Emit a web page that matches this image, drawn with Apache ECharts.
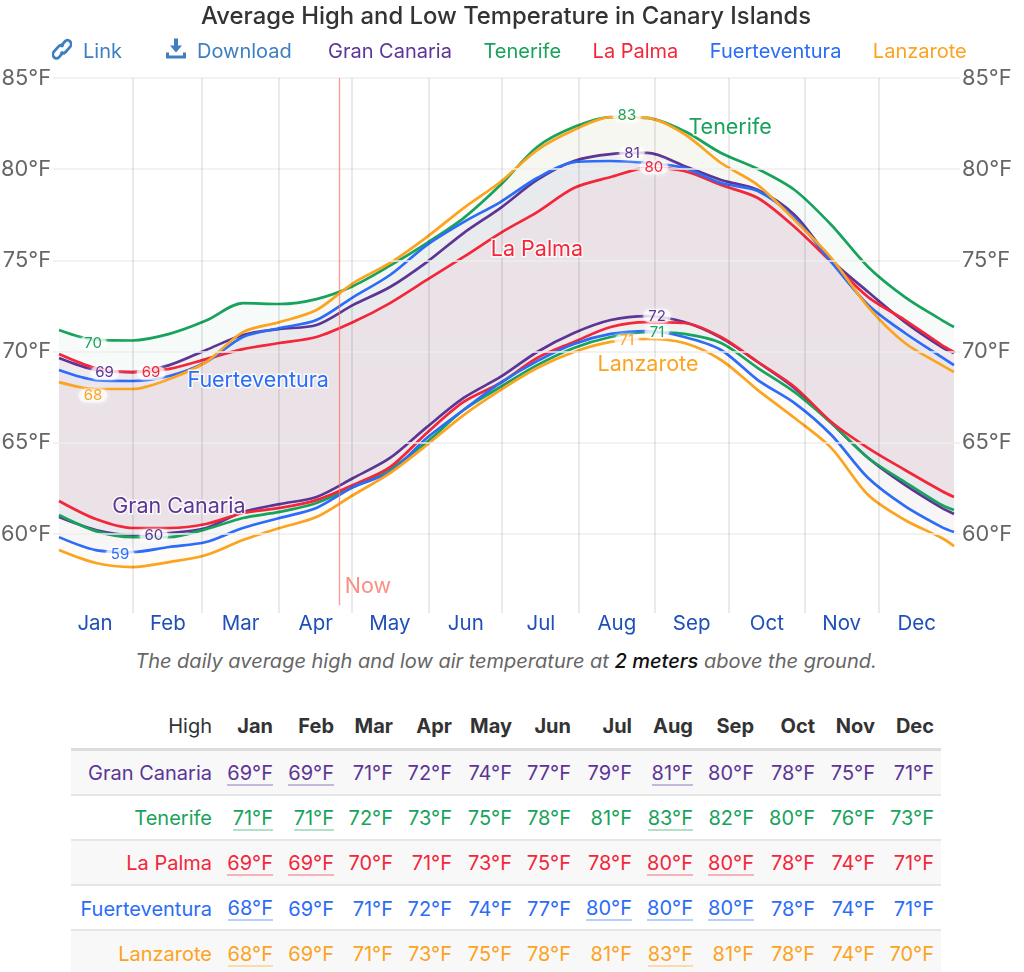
<!DOCTYPE html>
<html>
<head>
<meta charset="utf-8">
<script src="https://cdn.jsdelivr.net/npm/echarts@6/dist/echarts.min.js"></script>
<style>
html,body{margin:0;padding:0;background:#fff;overflow:hidden;width:1024px;height:972px;font-family:Inter,"Noto Sans",sans-serif}
#chart{position:absolute;left:0;top:0;width:1024px;height:645px}
#caption{position:absolute;left:0;width:1012px;top:649px;text-align:center;font-style:italic;font-size:20px;line-height:24px;color:#666}
#caption b{font-weight:500;color:#111}
.tool{position:absolute;top:39px;font-size:20px;line-height:24px;color:#3d7fbf}
.tool svg{position:absolute}
#tbl{position:absolute;left:71px;top:704px;width:870px;border-collapse:collapse;table-layout:fixed;font-size:20px}
#tbl th,#tbl td{padding:0 7px 0 0;text-align:right;white-space:nowrap;font-weight:400}
#tbl thead th{height:44px;border-bottom:3px solid #ddd;color:#333}
#tbl thead th.m{font-weight:700}
#tbl tbody tr{height:45.2px}
#tbl tbody td{border-bottom:2px solid #e6e6e6;padding-top:2px}
#tbl tbody tr:nth-child(odd){background:#f8f8f8}
#tbl tbody tr:last-child td{border-bottom:none}
#tbl span.u{border-bottom:2px solid;display:inline-block;line-height:21px}
</style>
</head>
<body>
<div id="chart"></div>
<div class="tool" style="left:83px"><svg style="left:-31px;top:-1px" width="20" height="22" viewBox="0 1 20 19.5" preserveAspectRatio="none" fill="none" stroke="#3d7fbf" stroke-width="2.6"><path d="M8.5 8.5 L13 4 a3.5 3.5 0 0 1 5 5 L13.5 13.5 a3.5 3.5 0 0 1 -5 0 M11.5 13.5 L7 18 a3.5 3.5 0 0 1 -5 -5 L6.5 8.5 a3.5 3.5 0 0 1 5 0"/></svg>Link</div>
<div class="tool" style="left:197px"><svg style="left:-31px;top:-1px" width="20" height="21" viewBox="0 0 20 20" fill="#3d7fbf"><path d="M8 0h4v7h4l-6 7-6-7h4z M0 14h3v3h14v-3h3v6H0z"/></svg>Download</div>
<div id="caption">The daily average high and low air temperature at <b>2 meters</b> above the ground.</div>
<table id="tbl"></table>
<script>
const titleText = 'Average High and Low Temperature in Canary Islands';
const islands = ['Gran Canaria', 'Tenerife', 'La Palma', 'Fuerteventura', 'Lanzarote'];
const colors = ['#5c3596', '#18a35c', '#f3263a', '#2b6cf8', '#fca31f'];
const months = ['Jan','Feb','Mar','Apr','May','Jun','Jul','Aug','Sep','Oct','Nov','Dec'];
const monthStarts = [30.2,58.3,89.7,119.5,150.9,180.7,212,243.1,273.2,304.2,334.4];
const monthMids = [14.7,44.4,74.1,104.7,134.9,165.9,196.5,227.5,258,288.7,319.2,349.8];
const tempTicks = [60,65,70,75,80,85];
const nowDay = 114.2;
const days = [0,15,30,45,60,75,90,105,120,135,150,165,180,195,210,225,240,255,270,285,300,315,330,345,360,365];

const granCanariaHigh = [69.65,68.99,68.88,69.26,70.09,70.91,71.24,71.46,72.56,73.54,74.91,76.50,77.87,79.41,80.45,80.83,80.89,80.18,79.41,78.86,77.49,75.02,73.27,71.62,70.25,69.92];
const granCanariaLow = [60.93,60.22,59.94,60.05,60.33,61.21,61.64,62.03,63.07,64.17,65.86,67.46,68.61,69.98,71.02,71.73,71.95,71.62,70.75,69.43,68.00,66.08,64.17,62.69,61.43,61.10];
const tenerifeHigh = [71.18,70.64,70.61,70.97,71.70,72.66,72.61,72.88,73.60,74.71,75.95,77.32,79.13,81.22,82.31,82.86,82.81,82.09,80.89,80.01,78.86,76.94,74.64,72.99,71.73,71.35];
const tenerifeLow = [61.04,60.16,59.83,59.83,60.27,60.88,61.21,61.70,62.58,63.56,65.04,66.80,68.06,69.26,70.20,70.80,71.07,70.97,70.47,69.10,67.78,66.08,64.17,62.85,61.59,61.32];
const laPalmaHigh = [69.87,69.10,68.88,69.05,69.59,70.14,70.47,70.80,71.62,72.66,73.93,75.19,76.50,77.65,78.97,79.57,80.07,79.90,79.13,78.42,76.83,74.91,72.99,71.73,70.36,69.98];
const laPalmaLow = [61.81,60.82,60.33,60.33,60.55,61.15,61.43,61.86,62.69,63.67,65.54,67.24,68.28,69.65,70.53,71.35,71.62,71.57,70.80,69.43,68.06,66.14,64.71,63.51,62.36,62.03];
const fuerteventuraHigh = [68.99,68.44,68.39,68.66,69.43,70.80,71.29,71.73,72.99,74.20,75.84,77.10,78.20,79.52,80.39,80.45,80.34,80.07,79.24,78.80,77.32,74.91,72.56,71.02,69.70,69.26];
const fuerteventuraLow = [59.83,59.12,59.01,59.29,59.56,60.33,60.88,61.43,62.58,63.40,65.26,66.80,68.28,69.48,70.42,70.97,71.13,70.80,70.09,68.44,67.18,65.43,63.07,61.53,60.38,60.11];
const lanzaroteHigh = [68.33,67.95,67.95,68.50,69.43,71.07,71.62,72.28,73.76,74.86,76.28,77.87,79.30,81.05,82.15,82.86,82.81,81.93,80.34,79.13,77.21,75.13,72.44,70.47,69.26,68.88];
const lanzaroteLow = [59.12,58.41,58.19,58.46,58.85,59.67,60.33,60.93,62.14,63.34,64.88,66.52,67.89,69.10,69.98,70.53,70.69,70.47,69.54,67.89,66.36,64.71,62.14,60.77,59.78,59.34];
const highs = [granCanariaHigh, tenerifeHigh, laPalmaHigh, fuerteventuraHigh, lanzaroteHigh];
const lows = [granCanariaLow, tenerifeLow, laPalmaLow, fuerteventuraLow, lanzaroteLow];

// [day, temperature, text, island index]
const valueLabels = [[13.9,70.47,'70',1],[18.6,68.83,'69',0],[37.5,68.83,'69',2],[13.9,67.6,'68',4],[38.7,59.9,'60',0],[24.9,58.9,'59',3],[231.6,82.96,'83',1],[233.7,80.88,'81',0],[242.6,80.1,'80',2],[243.9,71.95,'72',0],[243.9,71.07,'71',1],[231.6,70.6,'71',4]];
const nameLabels = [[273.7,82.3,'Tenerife',1],[194.9,75.57,'La Palma',2],[81.2,68.44,'Fuerteventura',3],[48.9,61.5,'Gran Canaria',0],[240.2,69.27,'Lanzarote',4]];

const tableGranCanaria = [69,69,71,72,74,77,79,81,80,78,75,71];
const tableTenerife = [71,71,72,73,75,78,81,83,82,80,76,73];
const tableLaPalma = [69,69,70,71,73,75,78,80,80,78,74,71];
const tableFuerteventura = [68,69,71,72,74,77,80,80,80,78,74,71];
const tableLanzarote = [68,69,71,73,75,78,81,83,81,78,74,70];
const tableRows = [tableGranCanaria, tableTenerife, tableLaPalma, tableFuerteventura, tableLanzarote];

const font = 'Inter, "Noto Sans", sans-serif';
const yMin = 55.67, yMax = 85;
const gridColor = '#eeeeee';

const series = [];
islands.forEach((name, i) => {
  const hi = highs[i], lo = lows[i];
  series.push({type:'custom', name, coordinateSystem:'cartesian2d', silent:true, z:2,
    data:days.map((d,k)=>[d,hi[k],lo[k]]), encode:{x:0,y:[1,2]}, itemStyle:{color:colors[i]},
    renderItem:(params, api) => {
      if (params.dataIndex !== 0) return null;
      const top = days.map((d,k)=>api.coord([d,hi[k]]));
      const bottom = days.map((d,k)=>api.coord([d,lo[k]])).reverse();
      return {type:'polygon', silent:true, shape:{points:top.concat(bottom)}, style:{fill:colors[i], opacity:0.04}};
    }});
});
islands.forEach((name, i) => {
  [highs[i], lows[i]].forEach(arr => {
    series.push({type:'line', name, data:days.map((d,k)=>[d,arr[k]]), showSymbol:false, symbol:'none', smooth:0.3,
      lineStyle:{width:2.7,color:colors[i]}, itemStyle:{color:colors[i]}, silent:true, z:3});
  });
});
const vLines = monthStarts.map(d => ({xAxis:d, lineStyle:{color:'rgba(0,0,0,0.11)',width:1.5,type:'solid'}}));
const hLines = tempTicks.map(v => ({yAxis:v, lineStyle:{color:gridColor,width:1.5,type:'solid'}}));
series.push({type:'line', name:'grid', data:[], silent:true, z:1,
  markLine:{silent:true, symbol:'none', label:{show:false}, animation:false, data:[...hLines, ...vLines]}});
series.push({type:'scatter', name:'labels', silent:true, z:10, symbolSize:1, itemStyle:{color:'transparent', opacity:1},
  markLine:{silent:true, symbol:'none', animation:false, label:{show:false},
    data:[[{xAxis:nowDay,yAxis:56.1,lineStyle:{color:'rgba(252,110,100,0.7)',width:1.3,type:'solid'}},{xAxis:nowDay,yAxis:yMax}]]},
  data:[
    ...valueLabels.map(l => ({value:[l[0],l[1]], label:{show:true, position:'inside', formatter:l[2], color:colors[l[3]], fontFamily:font, fontSize:15, lineHeight:14,
      textBorderWidth:0, textBorderColor:'transparent', backgroundColor:'rgba(255,255,255,0.62)', padding:[0,5], borderRadius:7,
      shadowColor:'rgba(255,255,255,0.9)', shadowBlur:5}})),
    ...nameLabels.map(l => ({value:[l[0],l[1]], label:{show:true, position:'inside', formatter:l[2], color:colors[l[3]], fontFamily:font, fontSize:21.5,
      textBorderColor:'rgba(255,255,255,0.8)', textBorderWidth:3}})),
    {value:[126,57.1], label:{show:true, position:'inside', formatter:'Now', color:'#fb8f86', fontFamily:font, fontSize:21.5, textBorderWidth:0, textBorderColor:'transparent'}}
  ]});

const chart = echarts.init(document.getElementById('chart'), null, {renderer:'canvas'});
chart.setOption({
  animation:false,
  textStyle:{fontFamily:font},
  title:{text:titleText, left:196, top:0, textStyle:{fontFamily:font,fontSize:23.85,fontWeight:500,color:'#333'}},
  legend:{left:323, top:42, itemWidth:0, itemHeight:0, itemGap:26.5, padding:0, selectedMode:false, icon:'none',
    data:islands.map((n,i)=>({name:n, textStyle:{color:colors[i],fontFamily:font,fontSize:20}}))},
  grid:{left:59, right:70, top:78, bottom:32, containLabel:false, outerBoundsMode:'none'},
  xAxis:{type:'value', min:0, max:365, splitLine:{show:false}, axisLine:{show:false}, axisTick:{show:false},
    axisLabel:{customValues:monthMids, margin:0, fontFamily:font, fontSize:20.5, color:'#1f4fb8', hideOverlap:false,
      formatter:v => months[monthMids.indexOf(v)]}},
  yAxis:[0,1].map(k => ({type:'value', min:yMin, max:yMax, position:k?'right':'left', splitLine:{show:false}, axisLine:{show:false},
    axisTick:{show:true, length:6, customValues:tempTicks, lineStyle:{color:gridColor,width:1.5}},
    axisLabel:{customValues:tempTicks, margin:8, padding:[4,0,0,0], fontFamily:font, fontSize:21.8, color:'#666', formatter:v => v+'°F'}})),
  series
});

const tbl = document.getElementById('tbl');
const widths = [148,61,61,59,59,60,59,61,61,61,61,60,59];
let html = '<colgroup>'+widths.map(w=>'<col style="width:'+w+'px">').join('')+'</colgroup>';
html += '<thead><tr><th>High</th>'+months.map(m=>'<th class="m">'+m+'</th>').join('')+'</tr></thead><tbody>';
islands.forEach((n,i) => {
  const row = tableRows[i], mn = Math.min(...row), mx = Math.max(...row);
  html += '<tr style="color:'+colors[i]+'"><td>'+n+'</td>'+row.map(v => {
    const t = v+'°F';
    return '<td>'+((v===mn||v===mx)?'<span class="u" style="border-color:'+colors[i]+'55">'+t+'</span>':t)+'</td>';
  }).join('')+'</tr>';
});
html += '</tbody>';
tbl.innerHTML = html;
</script>
</body>
</html>
